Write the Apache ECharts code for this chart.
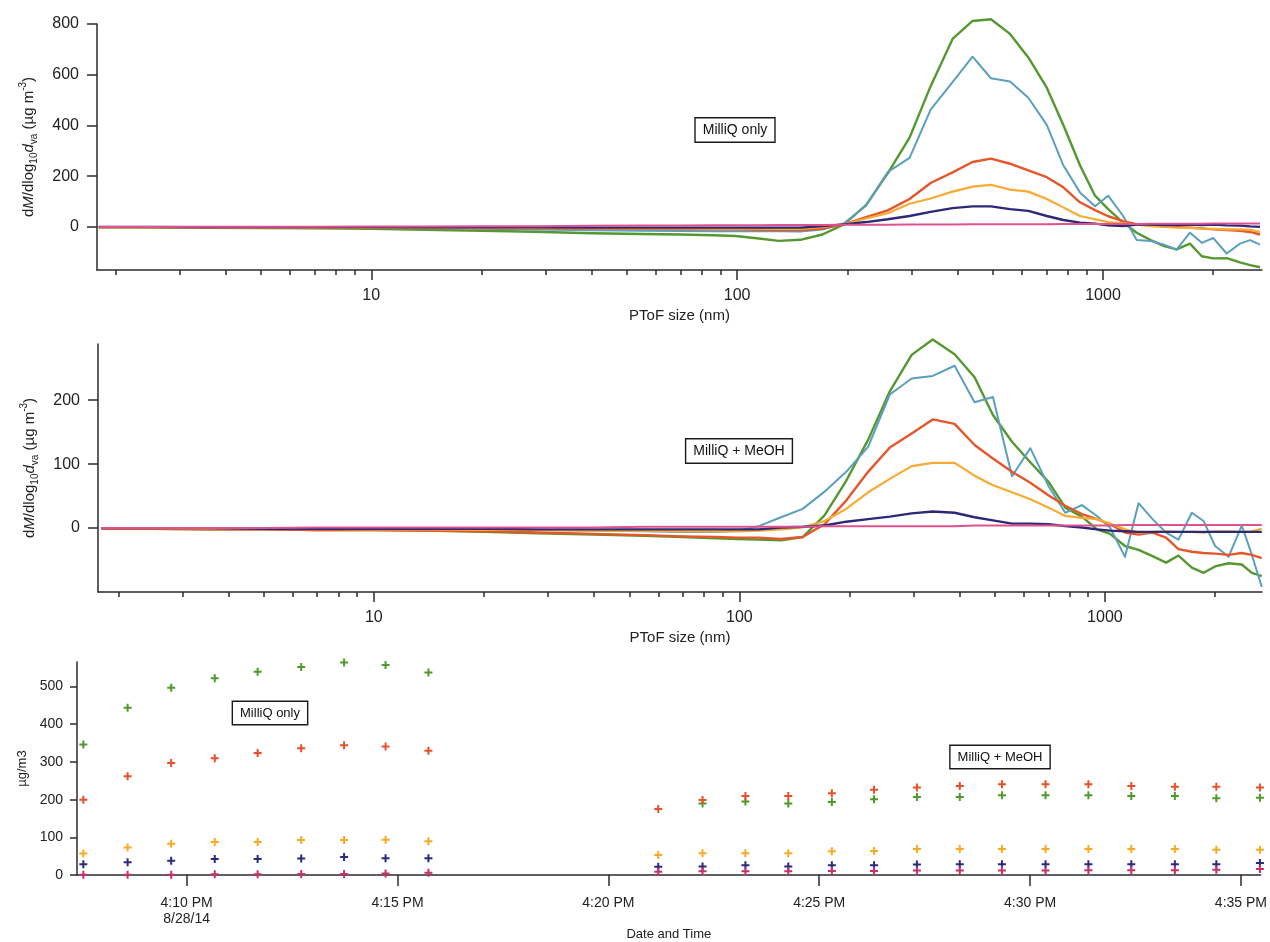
<!DOCTYPE html>
<html>
<head>
<meta charset="utf-8">
<script src="https://cdn.jsdelivr.net/npm/echarts@6/dist/echarts.min.js"></script>
<style>html,body{margin:0;padding:0;background:#fff}#c{width:1270px;height:942px}</style>
</head>
<body>
<div id="c"></div>
<script>
// ---------- DATA ----------
const sizes = [1.8, 2.5, 3.5, 5, 7, 10, 14, 20, 28, 40, 55, 70, 86, 99, 113, 130, 149, 171, 196, 225, 258, 296, 338, 388, 440, 494, 557, 625, 702, 779, 865, 951, 1033, 1135, 1236, 1350, 1470, 1589, 1729, 1862, 2002, 2178, 2368, 2524, 2686];

// Panel 1: MilliQ only (dM/dlog10dva)
const topGreen  = [-2,-3,-4,-5,-6,-8,-11,-15,-19,-25, -28,-30,-33,-36,-45,-55,-51,-30,10,86, 211,352,555,741,812,819,761,668,549,402, 243,123,70,17,-23,-52,-76,-89,-66,-116, -124,-123,-140,-151,-159];
const topCyan   = [-1,-1,-2,-2,-3,-4,-5,-7,-10,-13, -15,-16,-17,-17,-17,-17,-18,-10,14,83, 216,272,462,571,671,586,573,509,402,243, 136,81,123,43,-52,-56,-70,-90,-23,-63, -44,-105,-66,-52,-70];
const topRed    = [-1,-1,-2,-2,-3,-3,-4,-5,-6,-7, -8,-9,-10,-10,-11,-12,-12,-7,10,38, 65,110,173,215,256,269,249,223,196,156, 97,66,42,23,11,6,2,0,-3,-6, -10,-12,-15,-20,-30];
const topOrange = [-1,-1,-1,-2,-2,-2,-3,-3,-4,-5, -6,-6,-7,-7,-7,-8,-8,0,10,33, 54,91,112,139,159,166,147,139,110,77, 43,30,19,14,9,3,0,-3,-4,-7, -8,-10,-10,-12,-20];
const topNavy   = [0,0,-1,-1,-1,-1,-2,-2,-2,-3, -3,-3,-3,-3,-3,-3,-3,3,10,19, 30,43,59,74,81,81,70,63,43,27, 17,13,6,3,9,9,7,7,9,7, 9,6,5,2,0];
const topPink   = [0,0,1,1,1,2,2,3,3,4, 5,5,6,6,6,7,7,7,8,8, 8,9,9,9,10,10,10,10,10,11, 11,11,11,11,11,12,12,12,12,12, 13,13,13,13,13];

// Panel 2: MilliQ + MeOH
const midGreen  = [-1,-1,-2,-2,-3,-3,-4,-6,-8,-10, -12,-14,-16,-17,-18,-19,-14,20,74,138, 214,271,295,272,236,177,135,103,72,32, 18,-2,-9,-28,-34,-44,-54,-43,-62,-70, -60,-55,-57,-70,-75];
const midCyan   = [0,0,-1,-1,-1,-2,-2,-3,-3,-4, -5,-6,-6,-4,3,17,30,57,88,127, 209,234,238,254,197,205,81,125,65,24, 36,19,1,-45,39,14,-7,-18,24,11, -28,-45,4,-42,-92];
const midRed    = [-1,-1,-2,-2,-3,-3,-4,-5,-7,-9, -11,-13,-14,-15,-15,-17,-14,6,43,88, 126,148,170,163,130,109,88,71,51,35, 22,14,6,-7,-10,-7,-15,-33,-37,-39, -40,-42,-39,-42,-47];
const midOrange = [0,0,-1,-1,-1,-2,-2,-3,-3,-4, -4,-5,-5,-5,-4,-2,1,11,30,56, 77,97,102,102,82,67,56,45,32,19, 16,14,7,-2,-7,-6,-5,-6,-6,-7, -5,-5,-6,-5,-1];
const midNavy   = [0,0,0,-1,-1,-1,-1,-1,-2,-2, -2,-2,-2,-2,-2,1,2,4,10,14, 18,23,26,24,17,12,7,7,6,3, 1,-2,-4,-5,-6,-6,-6,-6,-6,-6, -6,-6,-6,-6,-6];
const midPink   = [0,0,0,0,1,1,1,1,1,1, 2,2,2,2,2,2,2,3,3,3, 3,3,3,3,4,4,4,4,4,4, 4,4,4,5,5,5,5,5,5,5, 5,5,5,5,5];

// Panel 3: time series (µg/m3), 8/28/14
const milliqTimes = ['16:07:33','16:08:36','16:09:38','16:10:40','16:11:41','16:12:43','16:13:44','16:14:43','16:15:44'];
const milliqGreen  = [346, 444, 497, 522, 539, 552, 564, 557, 537];
const milliqRed    = [200, 262, 297, 310, 324, 336, 344, 341, 330];
const milliqOrange = [57, 73, 83, 88, 88, 93, 93, 94, 90];
const milliqNavy   = [29, 34, 38, 43, 43, 44, 48, 45, 45];
const milliqPink   = [1, 1, 1, 2, 2, 3, 3, 4, 6];

const meohTimes = ['16:21:11','16:22:14','16:23:15','16:24:16','16:25:18','16:26:18','16:27:19','16:28:20','16:29:20','16:30:22','16:31:23','16:32:24','16:33:26','16:34:25','16:35:27'];
const meohRed    = [175, 199, 210, 210, 217, 226, 232, 236, 241, 241, 241, 236, 234, 234, 232];
const meohGreen  = [null, 190, 195, 190, 194, 201, 207, 207, 212, 212, 212, 210, 210, 204, 205];
const meohOrange = [53, 58, 58, 58, 63, 64, 69, 69, 69, 69, 69, 69, 69, 67, 67];
const meohNavy   = [22, 23, 26, 23, 26, 26, 28, 29, 29, 29, 29, 29, 29, 29, 32];
const meohPink   = [9, 10, 10, 10, 11, 11, 12, 12, 12, 12, 13, 13, 13, 14, 16];

// Tick labels
const sizeMajorTicks = [10, 100, 1000];
const sizeMinorTicks = [2,3,4,5,6,7,8,9,20,30,40,50,60,70,80,90,200,300,400,500,600,700,800,900,2000];
const topYTicks = [0, 200, 400, 600, 800];
const midYTicks = [0, 100, 200];
const botYTicks = [0, 100, 200, 300, 400, 500];
const timeTicks = ['16:10:00','16:15:00','16:20:00','16:25:00','16:30:00','16:35:00'];
const timeRange = ['16:07:24', '16:35:28'];
const dateLabel = '8/28/14';

const boxLabels = ['MilliQ only', 'MilliQ + MeOH'];

// ---------- STYLE ----------
const FONT = '"Liberation Sans", Arial, Helvetica, sans-serif';
const AX = '#2b2b2b';
const TXT = '#222';
const C = { green: '#55982f', cyan: '#5aa0bd', red: '#e5562b', orange: '#f8aa32', navy: '#2e2878', pink: '#e0528e',
            greenPt: '#4f9a2a', redPt: '#e8502a', orangePt: '#f9aa22', navyPt: '#2a2a80', pinkPt: '#c8306a' };

function toMs(hms) {
  const p = hms.split(':').map(Number);
  return new Date(2014, 7, 28, p[0], p[1], p[2]).getTime();
}

function richName(fs) {
  const s = fs, sm = Math.round(fs * 0.68), lh = fs + 6;
  return {
    n:   { fontSize: s, fontFamily: FONT, color: TXT, lineHeight: lh },
    i:   { fontSize: s, fontFamily: FONT, color: TXT, fontStyle: 'italic', lineHeight: lh },
    sub: { fontSize: sm, fontFamily: FONT, color: TXT, verticalAlign: 'bottom', lineHeight: lh },
    sup: { fontSize: sm, fontFamily: FONT, color: TXT, verticalAlign: 'top', lineHeight: lh }
  };
}
const yName = '{n|d}{i|M}{n|/dlog}{sub|10}{i|d}{sub|va}{n| (µg m}{sup|-3}{n|)}';

function sizeAxes(gridIndex, min, max) {
  return [
    {
      type: 'log', logBase: 10, gridIndex, min, max, position: 'bottom',
      name: 'PToF size (nm)', nameLocation: 'middle', nameGap: 38,
      nameTextStyle: { fontFamily: FONT, fontSize: 15, color: TXT },
      axisLine: { show: true, onZero: false, lineStyle: { color: AX, width: 1.5 } },
      axisTick: { show: true, inside: false, length: 10, customValues: sizeMajorTicks, lineStyle: { color: AX, width: 1.5 } },
      axisLabel: { show: true, customValues: sizeMajorTicks, margin: 18, fontFamily: FONT, fontSize: 16, color: TXT,
                   formatter: v => String(Math.round(v)) },
      splitLine: { show: false }, minorTick: { show: false }
    },
    {
      type: 'log', logBase: 10, gridIndex, min, max, position: 'bottom', offset: 0,
      axisLine: { show: false, onZero: false },
      axisTick: { show: true, inside: false, length: 5, customValues: sizeMinorTicks, lineStyle: { color: AX, width: 1.5 } },
      axisLabel: { show: false },
      splitLine: { show: false }
    }
  ];
}

function valueAxis(gridIndex, min, max, ticks, fs, margin, tickLen, name, nameGap, rich) {
  return {
    type: 'value', gridIndex, min, max, position: 'left',
    name, nameLocation: 'middle', nameGap, nameRotate: 90,
    nameTextStyle: rich ? { rich, fontFamily: FONT } : { fontFamily: FONT, fontSize: 13, color: TXT },
    axisLine: { show: true, onZero: false, lineStyle: { color: AX, width: 1.5 } },
    axisTick: { show: true, length: tickLen, customValues: ticks, lineStyle: { color: AX, width: 1.5 } },
    axisLabel: { customValues: ticks, margin, fontFamily: FONT, fontSize: fs, color: TXT },
    splitLine: { show: false }
  };
}

function lineSeries(xi, yi, vals, color, width) {
  return {
    type: 'line', xAxisIndex: xi, yAxisIndex: yi,
    data: sizes.map((s, i) => [s, vals[i]]),
    symbol: 'none', clip: false, silent: true,
    lineStyle: { color, width: width || 2.2, join: 'round' }
  };
}

const CROSS = 'path://M3,0H5V3H8V5H5V8H3V5H0V3H3Z';
function scatterSeries(times, vals, color) {
  const data = [];
  times.forEach((t, i) => { if (vals[i] !== null) data.push([toMs(t), vals[i]]); });
  return {
    type: 'scatter', xAxisIndex: 4, yAxisIndex: 2, data,
    symbol: CROSS, symbolSize: 8, itemStyle: { color, opacity: 1 }, silent: true
  };
}

function fmtTime(v) {
  const d = new Date(v);
  const h = d.getHours(), m = d.getMinutes();
  let s = (h % 12 || 12) + ':' + String(m).padStart(2, '0') + ' ' + (h >= 12 ? 'PM' : 'AM');
  if (h === 16 && m === 10) s += '\n' + dateLabel;
  return s;
}

function box(x, y, text, fs) {
  return {
    type: 'text', x, y, z: 100,
    style: {
      text, font: fs + 'px ' + FONT, fill: '#111',
      align: 'center', verticalAlign: 'middle', textAlign: 'center', textVerticalAlign: 'middle',
      backgroundColor: '#fff', borderColor: '#1a1a1a', borderWidth: 1.4,
      padding: [5, 7, 4, 7]
    }
  };
}

const timeTickMs = timeTicks.map(toMs);

const option = {
  animation: false,
  backgroundColor: '#fff',
  grid: [
    { left: 97, right: 8, top: 24, height: 246 },
    { left: 98, right: 8, top: 344, height: 248 },
    { left: 77, right: 8, top: 662, height: 214 }
  ],
  xAxis: [
    ...sizeAxes(0, 1.78, 2720),
    ...sizeAxes(1, 1.76, 2690),
    {
      type: 'value', gridIndex: 2, position: 'bottom',
      min: toMs(timeRange[0]), max: toMs(timeRange[1]),
      name: 'Date and Time', nameLocation: 'middle', nameGap: 50,
      nameTextStyle: { fontFamily: FONT, fontSize: 13, color: TXT },
      axisLine: { show: true, onZero: false, lineStyle: { color: AX, width: 1.5 } },
      axisTick: { show: true, length: 11, customValues: timeTickMs, lineStyle: { color: AX, width: 1.5 } },
      axisLabel: { customValues: timeTickMs, margin: 20, fontFamily: FONT, fontSize: 14, color: TXT, lineHeight: 16,
                   formatter: fmtTime, hideOverlap: false },
      splitLine: { show: false }
    }
  ],
  yAxis: [
    valueAxis(0, -170, 800, topYTicks, 16, 18, 10, yName, 58, richName(15)),
    valueAxis(1, -100, 288, midYTicks, 16, 18, 10, yName, 58, richName(15)),
    valueAxis(2, 0, 565, botYTicks, 14, 14, 7, 'µg/m3', 44, null)
  ],
  series: [
    lineSeries(0, 0, topGreen, C.green, 2.4),
    lineSeries(0, 0, topCyan, C.cyan, 2.0),
    lineSeries(0, 0, topRed, C.red, 2.4),
    lineSeries(0, 0, topOrange, C.orange, 2.2),
    lineSeries(0, 0, topNavy, C.navy, 2.4),
    lineSeries(0, 0, topPink, C.pink, 2.0),
    lineSeries(2, 1, midGreen, C.green, 2.4),
    lineSeries(2, 1, midCyan, C.cyan, 2.0),
    lineSeries(2, 1, midRed, C.red, 2.4),
    lineSeries(2, 1, midOrange, C.orange, 2.2),
    lineSeries(2, 1, midNavy, C.navy, 2.4),
    lineSeries(2, 1, midPink, C.pink, 2.0),
    scatterSeries(milliqTimes, milliqGreen, C.greenPt),
    scatterSeries(milliqTimes, milliqRed, C.redPt),
    scatterSeries(milliqTimes, milliqOrange, C.orangePt),
    scatterSeries(milliqTimes, milliqNavy, C.navyPt),
    scatterSeries(milliqTimes, milliqPink, C.pinkPt),
    scatterSeries(meohTimes, meohGreen, C.greenPt),
    scatterSeries(meohTimes, meohRed, C.redPt),
    scatterSeries(meohTimes, meohOrange, C.orangePt),
    scatterSeries(meohTimes, meohNavy, C.navyPt),
    scatterSeries(meohTimes, meohPink, C.pinkPt)
  ],
  graphic: [
    box(735, 130, boxLabels[0], 14),
    box(739, 451, boxLabels[1], 14),
    box(270, 713, boxLabels[0], 13),
    box(1000, 757, boxLabels[1], 13)
  ]
};

const chart = echarts.init(document.getElementById('c'), null, { renderer: 'canvas' });
chart.setOption(option);
</script>
</body>
</html>
